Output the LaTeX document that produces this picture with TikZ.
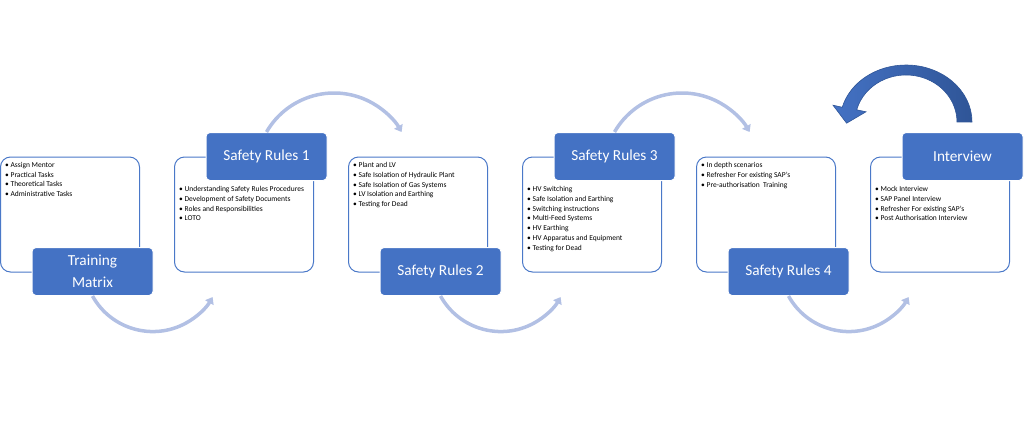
\documentclass[tikz,border=0pt]{standalone}
\usepackage{fontspec}
\setmainfont{Carlito}
\usetikzlibrary{positioning,arrows.meta}
\definecolor{lblblue}{HTML}{4472C4}
\definecolor{boxblue}{HTML}{4A78C8}
\definecolor{arcblue}{RGB}{178,192,228}
\definecolor{darkblue}{HTML}{2F5597}
\begin{document}
\begin{tikzpicture}[x=1pt,y=-1pt,
	txtbox/.style={draw=boxblue,line width=1pt,rounded corners=10pt,fill=white,minimum width=139pt,minimum height=115pt,inner sep=0pt},
	lbl/.style={fill=lblblue,draw=white,line width=1pt,rounded corners=4pt,text=white,font=\fontsize{15.3}{22}\selectfont,minimum width=121pt,minimum height=48pt,inner sep=0pt,align=center},
	items/.style={font=\fontsize{7.5}{9.8}\selectfont,align=left,inner sep=0pt},
	flow/.style={draw=arcblue,line width=3.5pt,-{Triangle[length=6.5pt,width=9.5pt]}}]
	\useasboundingbox (0,0) rectangle (1025,429);
	% text boxes
	\node[txtbox] (tmbox) at (70,214.5) {};
	\node[txtbox] (sr1box) at (244,214.5) {};
	\node[txtbox] (sr2box) at (418,214.5) {};
	\node[txtbox] (sr3box) at (592,214.5) {};
	\node[txtbox] (sr4box) at (766,214.5) {};
	\node[txtbox] (ivbox) at (940,214.5) {};
	\node[items,below right=5.5pt and 5pt of tmbox.north west] (tmlist) {\textbullet\ Assign Mentor\\\textbullet\ Practical Tasks\\\textbullet\ Theoretical Tasks\\\textbullet\ Administrative Tasks};
	\node[items,below right=29.5pt and 5pt of sr1box.north west] (sr1list) {\textbullet\ Understanding Safety Rules Procedures\\\textbullet\ Development of Safety Documents\\\textbullet\ Roles and Responsibilities\\\textbullet\ LOTO};
	\node[items,below right=5.5pt and 5pt of sr2box.north west] (sr2list) {\textbullet\ Plant and LV\\\textbullet\ Safe Isolation of Hydraulic Plant\\\textbullet\ Safe Isolation of Gas Systems\\\textbullet\ LV Isolation and Earthing\\\textbullet\ Testing for Dead};
	\node[items,below right=29.5pt and 5pt of sr3box.north west] (sr3list) {\textbullet\ HV Switching\\\textbullet\ Safe Isolation and Earthing\\\textbullet\ Switching instructions\\\textbullet\ Multi-Feed Systems\\\textbullet\ HV Earthing\\\textbullet\ HV Apparatus and Equipment\\\textbullet\ Testing for Dead};
	\node[items,below right=5.5pt and 5pt of sr4box.north west] (sr4list) {\textbullet\ In depth scenarios\\\textbullet\ Refresher For existing SAP’s\\\textbullet\ Pre-authorisation\ \ Training};
	\node[items,below right=29.5pt and 5pt of ivbox.north west] (ivlist) {\textbullet\ Mock Interview\\\textbullet\ SAP Panel Interview\\\textbullet\ Refresher For existing SAP’s\\\textbullet\ Post Authorisation Interview};
	% labels
	\node[lbl] (tm) at ([xshift=22.5pt,yshift=1pt]tmbox.south) {Training\\Matrix};
	\node[lbl] (sr1) at ([xshift=22.5pt]sr1box.north) {Safety Rules 1};
	\node[lbl] (sr2) at ([xshift=22.5pt,yshift=1pt]sr2box.south) {Safety Rules 2};
	\node[lbl] (sr3) at ([xshift=22.5pt]sr3box.north) {Safety Rules 3};
	\node[lbl] (sr4) at ([xshift=22.5pt,yshift=1pt]sr4box.south) {Safety Rules 4};
	\node[lbl] (iv) at ([xshift=22.5pt]ivbox.north) {Interview};
	% arcs
	\foreach \n in {tm,sr2,sr4}
		\draw[flow] (\n.south) arc[start angle=151,end angle=30,radius=69];
	\foreach \n in {sr1,sr3}
		\draw[flow] (\n.north) arc[start angle=210,end angle=330,radius=78];
	% return arrow
	\path[left color=lblblue,right color=darkblue,draw=darkblue,line width=0.6pt]
		(972,122) arc[start angle=0,end angle=-165,x radius=66,y radius=57]
		-- (833,105.2) -- (846.6,123.2) -- (866,111.8) -- (856.7,109.8)
		arc[start angle=-165,end angle=0,x radius=51,y radius=47] -- cycle;
\end{tikzpicture}
\end{document}
